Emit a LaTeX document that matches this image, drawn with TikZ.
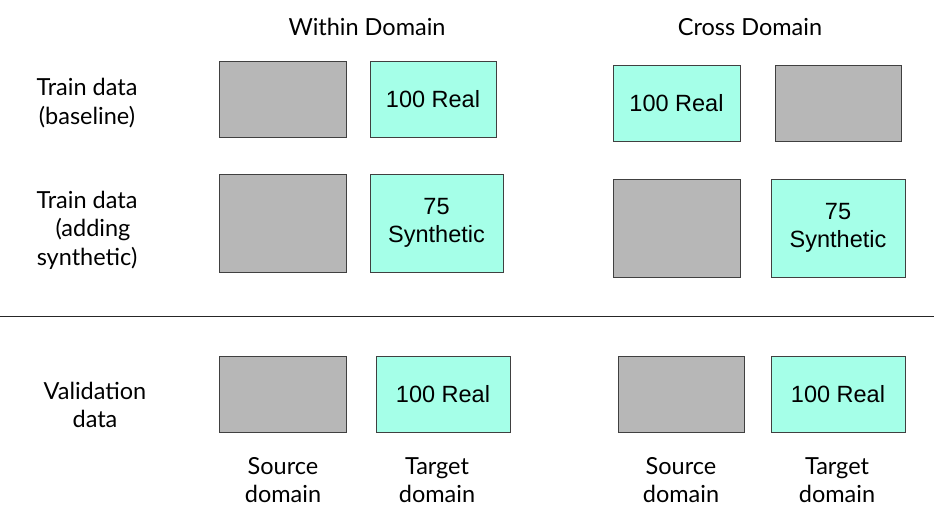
\documentclass[tikz,border=0pt]{standalone}
\usepackage{fontspec}
\setmainfont{Lato}
\newfontfamily\boxfont{Liberation Sans}
\usetikzlibrary{positioning}

\definecolor{boxgray}{HTML}{B7B7B7}
\definecolor{boxcyan}{HTML}{A5FFE8}
\definecolor{boxline}{HTML}{404040}

\tikzset{
  every node/.style={inner sep=0pt, outer sep=0pt},
  plaintext/.style={align=center, font=\fontsize{23.5}{28.5}\selectfont},
  emptybox/.style={draw=boxline, line width=1pt, fill=boxgray, minimum width=127pt},
  databox/.style={draw=boxline, line width=1pt, fill=boxcyan, align=center, minimum width=127pt,
    font=\boxfont\fontsize{23.5}{28}\selectfont},
  short/.style={minimum height=76pt},
  tall/.style={minimum height=98pt}
}

\begin{document}
\begin{tikzpicture}[x=1pt,y=-1pt]
 \useasboundingbox (0,0) rectangle (934,525);

    % column headers
    \node[plaintext] (within) at (367,27) {Within Domain};
    \node[plaintext] (cross) at (750,27) {Cross Domain};

    % row labels
    \node[plaintext] (base_label) at (87,103) {Train data\\(baseline)};
    \node[plaintext] (synth_label) at (87,230) {Train data\\\ \ (adding\\synthetic)};
    \node[plaintext] (val_label) at (95,405) {Validation\\data};

    % baseline train data
    \node[emptybox,short] (wd_base_src) at (282.5,99) {};
    \node[databox,short,minimum width=126pt] (wd_base_tgt) at (433,99) {100 Real};
    \node[databox,short] (cd_base_src) at (676.5,103) {100 Real};
    \node[emptybox,short,minimum width=126pt] (cd_base_tgt) at (838,103) {};

    % train data with synthetic
    \node[emptybox,tall] (wd_syn_src) at (282.5,223) {};
    \node[databox,tall,minimum width=133pt] (wd_syn_tgt) at (436.5,223) {75\\Synthetic};
    \node[emptybox,tall] (cd_syn_src) at (676.5,228) {};
    \node[databox,tall,minimum width=134pt] (cd_syn_tgt) at (838,228) {75\\Synthetic};

    % separator
    \coordinate (sep_left) at (0,316);
    \coordinate (sep_right) at (934,316);
    \draw[line width=1pt, black!85] (sep_left) -- (sep_right);

    % validation data
    \node[emptybox,short] (wd_val_src) at (282.5,394) {};
    \node[databox,short,minimum width=134pt] (wd_val_tgt) at (443,394) {100 Real};
    \node[emptybox,short,minimum width=126pt] (cd_val_src) at (681,394) {};
    \node[databox,short,minimum width=134pt] (cd_val_tgt) at (838,394) {100 Real};

    % domain labels
    \node[plaintext] (wd_src_label) at (283,480) {Source\\domain};
    \node[plaintext] (wd_tgt_label) at (437,480) {Target\\domain};
    \node[plaintext] (cd_src_label) at (681,480) {Source\\domain};
    \node[plaintext] (cd_tgt_label) at (837,480) {Target\\domain};
\end{tikzpicture}
\end{document}
